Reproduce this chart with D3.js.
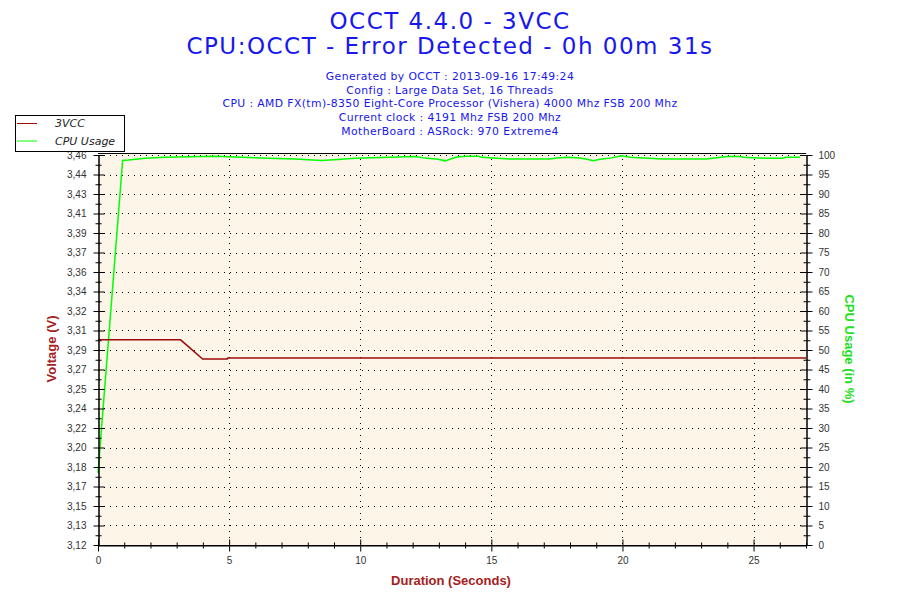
<!DOCTYPE html>
<html>
<head>
<meta charset="utf-8">
<script src="https://cdn.jsdelivr.net/npm/d3@7"></script>
<style>
  body { margin: 0; background: #fff; }
  .tick text { font-family: "Liberation Sans", Arial, sans-serif; font-size: 10px; fill: #333; }
  .domain, .tick line { stroke: #000; }
</style>
</head>
<body>
<svg id="chart" width="900" height="600"></svg>
<script>
// chart data
var titleLines = ["OCCT 4.4.0 - 3VCC", "CPU:OCCT - Error Detected - 0h 00m 31s"];
var infoLines = [
    "Generated by OCCT : 2013-09-16 17:49:24",
    "Config : Large Data Set, 16 Threads",
    "CPU : AMD FX(tm)-8350 Eight-Core Processor (Vishera) 4000 Mhz FSB 200 Mhz",
    "Current clock : 4191 Mhz FSB 200 Mhz",
    "MotherBoard : ASRock: 970 Extreme4"
];
var seriesNames = ["3VCC", "CPU Usage"];

var voltSeconds = [0, 3.15, 3.99, 4.93, 4.95, 27.0];
var voltValues  = [3.302, 3.302, 3.285, 3.285, 3.286, 3.286];

var cpuSeconds = [0, 0.94, 1.16, 1.54, 1.79, 2.56, 4.46, 5.48, 6.5, 7.51, 8.53, 9.29, 9.8,
    12.09, 12.47, 12.98, 13.23, 13.42, 13.68, 14.06, 14.5, 14.63, 15.2, 15.7, 17.24, 17.5,
    17.88, 18.38, 18.64, 18.89, 19.15, 19.53, 19.97, 20.29, 20.8, 21.56, 23.2, 23.6, 23.98,
    24.5, 24.6, 25.5, 26.1, 26.26, 26.77];
var cpuValues = [18.5, 98.6, 98.7, 99.0, 99.15, 99.4, 99.7, 99.4, 99.15, 99.0, 98.6, 98.9, 99.15,
    99.6, 99.2, 98.9, 98.5, 98.9, 99.5, 99.7, 99.7, 99.4, 99.15, 99.0, 99.0, 99.2,
    99.4, 99.2, 98.9, 98.5, 98.9, 99.2, 99.8, 99.4, 99.2, 99.0, 99.0, 99.3, 99.6,
    99.6, 99.4, 99.15, 99.15, 99.4, 99.4];

var voltTickLabels = ["3,12", "3,13", "3,15", "3,17", "3,18", "3,20", "3,22", "3,24", "3,25", "3,27",
    "3,29", "3,31", "3,32", "3,34", "3,36", "3,37", "3,39", "3,41", "3,43", "3,44", "3,46"];
var cpuTicks = [0, 5, 10, 15, 20, 25, 30, 35, 40, 45, 50, 55, 60, 65, 70, 75, 80, 85, 90, 95, 100];
var timeTicks = [0, 5, 10, 15, 20, 25];

var VOLT_MIN = 3.12, VOLT_MAX = 3.466;
var COLOR_VOLT = "#9e0b0b", COLOR_CPU = "#00ff00", COLOR_TITLE = "#1717ee";

var svg = d3.select("#chart");
var plot = {left: 98, right: 806, top: 153, bottom: 545, gridTop: 155};

var x = d3.scaleLinear().domain([0, 27]).range([plot.left, plot.right]);
var yVolt = d3.scaleLinear().domain([VOLT_MIN, VOLT_MAX]).range([plot.bottom, plot.gridTop]);
var yCpu = d3.scaleLinear().domain([0, 100]).range([plot.bottom, plot.gridTop]);

var voltTicks = voltTickLabels.map(function(d, i){ return VOLT_MIN + i * (VOLT_MAX - VOLT_MIN) / 20; });
var voltMinor = voltTicks.slice(1).map(function(d, i){ return (d + voltTicks[i]) / 2; });
var cpuMinor = cpuTicks.slice(1).map(function(d){ return d - 2.5; });
var timeMinor = d3.range(0, 28).filter(function(d){ return d % 5 != 0; });

// titles
svg.selectAll(".title").data(titleLines).enter().append("text")
    .attr("class", "title")
    .attr("x", 450).attr("y", function(d, i){ return 28.5 + i * 25.5; })
    .attr("text-anchor", "middle")
    .style("font-family", "'DejaVu Sans', Verdana, sans-serif")
    .style("font-size", "23px").style("letter-spacing", "1.5px")
    .style("fill", COLOR_TITLE)
    .text(function(d){ return d; });

svg.selectAll(".info").data(infoLines).enter().append("text")
    .attr("class", "info")
    .attr("x", 450).attr("y", function(d, i){ return 80 + i * 13.7; })
    .attr("text-anchor", "middle")
    .style("font-family", "'DejaVu Sans', Verdana, sans-serif")
    .style("font-size", "10.8px").style("letter-spacing", "0.4px")
    .style("fill", COLOR_TITLE)
    .text(function(d){ return d; });

// plot background
svg.append("rect")
    .attr("x", plot.left).attr("y", plot.top)
    .attr("width", plot.right - plot.left).attr("height", plot.bottom - plot.top)
    .attr("fill", "#fcf5e8");

// grid
var grid = svg.append("g").attr("stroke", "#000").attr("stroke-dasharray", "1,5").attr("stroke-width", 1);
grid.selectAll(".hgrid").data(voltTicks.slice(1)).enter().append("line")
    .attr("x1", plot.left).attr("x2", plot.right)
    .attr("y1", function(d){ return Math.round(yVolt(d)) + 0.5; })
    .attr("y2", function(d){ return Math.round(yVolt(d)) + 0.5; });
grid.selectAll(".vgrid").data(timeTicks.slice(1)).enter().append("line")
    .attr("y1", plot.top).attr("y2", plot.bottom)
    .attr("x1", function(d){ return Math.round(x(d)) + 0.5; })
    .attr("x2", function(d){ return Math.round(x(d)) + 0.5; });

// frame
svg.append("line")
    .attr("x1", plot.left).attr("x2", plot.right)
    .attr("y1", plot.top + 0.5).attr("y2", plot.top + 0.5)
    .attr("stroke", "#000");

// series
var voltLine = d3.line()
    .x(function(d){ return x(d[0]); })
    .y(function(d){ return yVolt(d[1]); });
var cpuLine = d3.line()
    .x(function(d){ return x(d[0]); })
    .y(function(d){ return yCpu(d[1]); });

svg.append("path")
    .datum(d3.zip(cpuSeconds, cpuValues))
    .attr("d", cpuLine)
    .attr("fill", "none").attr("stroke", COLOR_CPU).attr("stroke-width", 1.5);

svg.append("path")
    .datum(d3.zip(voltSeconds, voltValues))
    .attr("d", voltLine)
    .attr("fill", "none").attr("stroke", COLOR_VOLT).attr("stroke-width", 1.5);

// axes
var leftAxis = svg.append("g")
    .attr("transform", "translate(" + (plot.left + 0.5) + ",0)")
    .call(d3.axisLeft(yVolt).tickValues(voltTicks)
        .tickFormat(function(d, i){ return voltTickLabels[i]; })
        .tickSize(5).tickSizeOuter(0).tickPadding(7));
leftAxis.selectAll(".tick line").attr("x1", -5).attr("x2", 6);

var leftMinor = svg.append("g")
    .attr("transform", "translate(" + (plot.left + 0.5) + ",0)")
    .call(d3.axisLeft(yVolt).tickValues(voltMinor).tickFormat("").tickSizeOuter(0));
leftMinor.selectAll(".tick line").attr("x1", -3).attr("x2", 3);

var rightAxis = svg.append("g")
    .attr("transform", "translate(" + (plot.right + 0.5) + ",0)")
    .call(d3.axisRight(yCpu).tickValues(cpuTicks)
        .tickSize(6).tickSizeOuter(0).tickPadding(6));
rightAxis.selectAll(".tick line").attr("x1", -6).attr("x2", 6);
rightAxis.selectAll(".tick text").attr("x", 12);

var rightMinor = svg.append("g")
    .attr("transform", "translate(" + (plot.right + 0.5) + ",0)")
    .call(d3.axisRight(yCpu).tickValues(cpuMinor).tickFormat("").tickSizeOuter(0));
rightMinor.selectAll(".tick line").attr("x1", -3).attr("x2", 4);

var bottomAxis = svg.append("g")
    .attr("transform", "translate(0," + (plot.bottom + 0.5) + ")")
    .call(d3.axisBottom(x).tickValues(timeTicks)
        .tickSize(6).tickSizeOuter(0).tickPadding(5.5));
bottomAxis.selectAll(".tick line").attr("y1", -6).attr("y2", 6);

var bottomMinor = svg.append("g")
    .attr("transform", "translate(0," + (plot.bottom + 0.5) + ")")
    .call(d3.axisBottom(x).tickValues(timeMinor).tickFormat("").tickSizeOuter(0));
bottomMinor.selectAll(".tick line").attr("y1", -3).attr("y2", 3);
bottomMinor.select(".domain").attr("d", "M" + plot.left + ",0H" + plot.right);

// axis titles
svg.append("text")
    .attr("transform", "translate(56,349) rotate(-90)")
    .attr("text-anchor", "middle")
    .style("font-family", "'Liberation Sans', Arial, sans-serif")
    .style("font-size", "13px").style("font-weight", "bold")
    .style("fill", "#a52020")
    .text("Voltage (V)");

svg.append("text")
    .attr("transform", "translate(845,349) rotate(90)")
    .attr("text-anchor", "middle")
    .style("font-family", "'Liberation Sans', Arial, sans-serif")
    .style("font-size", "13px").style("font-weight", "bold")
    .style("fill", "#22e022")
    .text("CPU Usage (in %)");

svg.append("text")
    .attr("x", 451).attr("y", 585)
    .attr("text-anchor", "middle")
    .style("font-family", "'Liberation Sans', Arial, sans-serif")
    .style("font-size", "13px").style("font-weight", "bold")
    .style("fill", "#a52020")
    .text("Duration (Seconds)");

// legend
var legend = svg.append("g");
legend.append("rect")
    .attr("x", 15.5).attr("y", 115.5).attr("width", 109).attr("height", 36)
    .attr("fill", "#fff").attr("stroke", "#000");
var items = legend.selectAll(".item").data(seriesNames).enter().append("g")
    .attr("transform", function(d, i){ return "translate(0," + (123.5 + i * 17.5) + ")"; });
items.append("line")
    .attr("x1", 17).attr("x2", 37)
    .attr("stroke", function(d, i){ return i == 0 ? COLOR_VOLT : COLOR_CPU; });
items.append("text")
    .attr("x", 55).attr("y", 3.5)
    .style("font-family", "'DejaVu Sans', Verdana, sans-serif")
    .style("font-size", "11px").style("font-style", "italic")
    .style("fill", "#222")
    .text(function(d){ return d; });
</script>
</body>
</html>
